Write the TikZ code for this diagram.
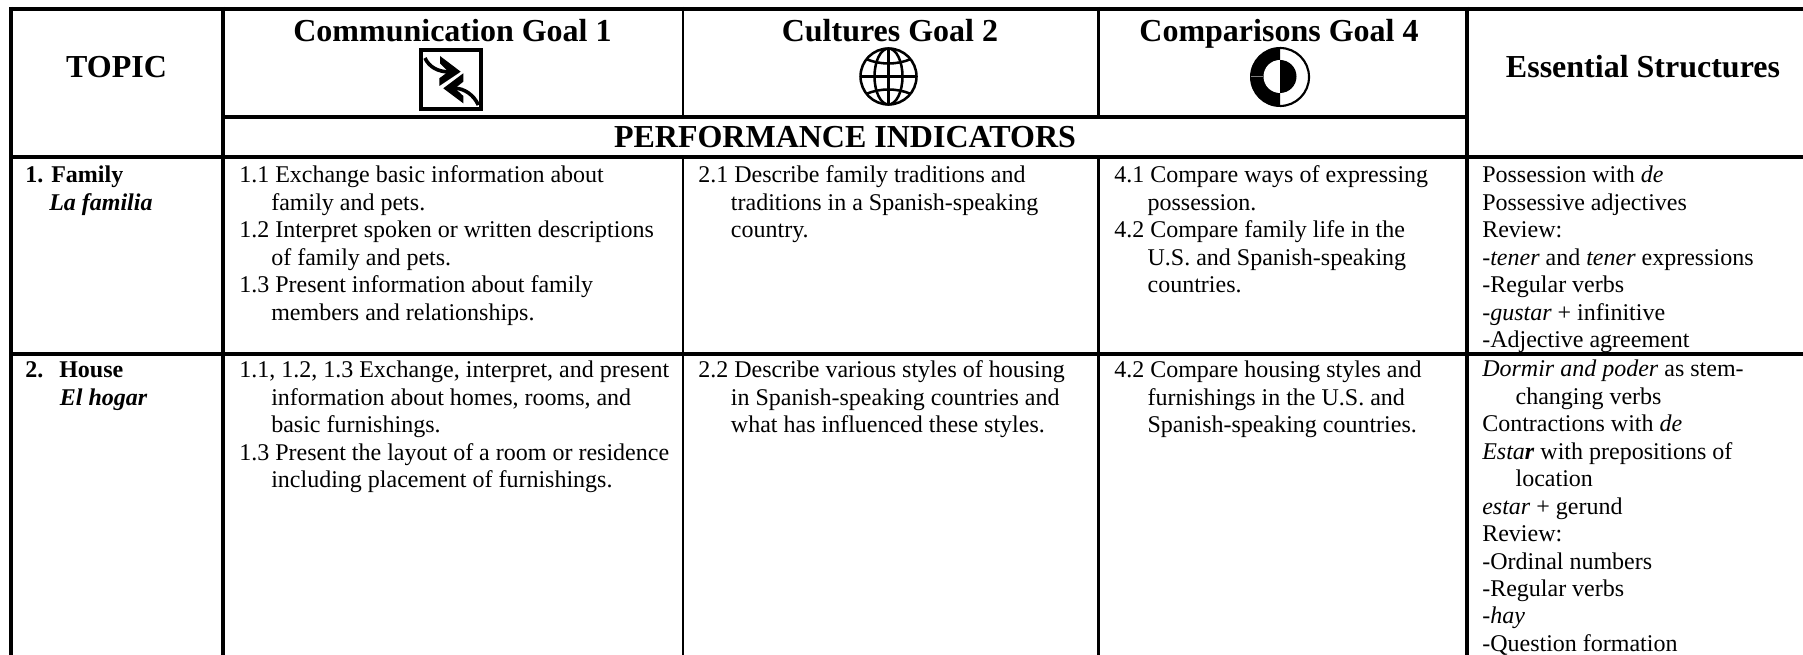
\documentclass[tikz,border=0pt]{standalone}
\usepackage{fontspec}
\setmainfont{Liberation Serif}
\newcommand{\cellstrut}{\rule{0pt}{15pt}}
\newcommand{\ind}[1]{\hspace*{#1}}
\tikzset{
  x=0.75pt,y=-0.75pt,
  thickrule/.style={line width=3pt,black},
  thinrule/.style={line width=1.6pt,black},
  headtext/.style={anchor=base,inner sep=0pt,font=\bfseries\fontsize{24}{28}\selectfont},
  celltext/.style={anchor=north west,inner sep=0pt,align=left,font=\fontsize{18}{20.6}\selectfont},
  topictext/.style={celltext,font=\bfseries\fontsize{18}{20.6}\selectfont},
  iconline/.style={line width=3pt,black},
  globeline/.style={line width=1.9pt,black},
}
\begin{document}
\begin{tikzpicture}
\useasboundingbox (0,0) rectangle (1803,655);
\fill[white] (0,0) rectangle (1803,655);
% rules
\draw[thickrule] (9,9) -- (1803,9);
\draw[thickrule] (222,117) -- (1467,117);
\draw[thickrule] (9,157) -- (1803,157);
\draw[line width=2.4pt] (9,354) -- (1803,354);
\draw[thickrule] (11,7) -- (11,655);
\draw[thickrule] (222.5,7) -- (222.5,655);
\draw[thinrule] (683,7) -- (683,117);
\draw[thinrule] (683,157) -- (683,655);
\draw[thinrule] (1098.5,7) -- (1098.5,117);
\draw[thinrule] (1098.5,157) -- (1098.5,655);
\draw[thickrule] (1467,7) -- (1467,655);
% headers
\node[headtext] (topic) at (116.5,78) {TOPIC};
\node[headtext] (comm) at (452.5,41.5) {Communication Goal 1};
\node[headtext] (cult) at (890,41.5) {Cultures Goal 2};
\node[headtext] (comp) at (1279,41.5) {Comparisons Goal 4};
\node[headtext] (ess) at (1643,78) {Essential Structures};
\node[headtext] (perf) at (845,148) {PERFORMANCE INDICATORS};
% communication icon
\draw[iconline] (421.3,50) rectangle (480.7,109);
\draw[line width=2.7pt,black] (425,58) .. controls (429,67) and (438,72) .. (450,72);
\fill[black] (440,56) -- (460.7,71.7) -- (439.3,86) -- (439.3,78.3) -- (448.3,71.7) -- (440,63.3) -- cycle;
\draw[line width=2.7pt,black] (478.3,105) .. controls (474,95) and (464,88.3) .. (455,88.3);
\fill[black] (443.3,88.3) -- (463.3,73.3) -- (463.3,81.7) -- (455,88.3) -- (463.3,96) -- (463.3,103.3) -- cycle;
% globe icon
\draw[globeline] (888.5,76.5) circle (28);
\draw[globeline] (888.5,76.5) ellipse (14 and 28);
\draw[globeline] (888.5,48.5) -- (888.5,104.5);
\draw[globeline] (860.5,76.5) -- (916.5,76.5);
\draw[globeline] (866,59) .. controls (880,65) and (897,65) .. (911,59);
\draw[globeline] (866,94) .. controls (880,88) and (897,88) .. (911,94);
% comparison icon
\fill[black] (1280,47) arc[start angle=270,end angle=90,radius=30] -- cycle;
\draw[line width=1.6pt,black] (1280,48) arc[start angle=-90,end angle=90,radius=29];
\fill[white] (1280,60) arc[start angle=270,end angle=90,radius=16.5] -- cycle;
\fill[black] (1280,60) arc[start angle=-90,end angle=90,radius=16.5] -- cycle;
\draw[line width=0.4pt,gray] (1251,76.5) -- (1263,76.5);
% topic cells
\node[topictext] (t1) at (25,162.5) {\cellstrut 1. Family\\\ind{18pt}\textit{La familia}};
\node[topictext] (t2) at (25,357.5) {\cellstrut 2.\ \ \,House\\\ind{26pt}\textit{El hogar}};
% communication cells
\node[celltext] (c1) at (239,162.5) {\cellstrut 1.1 Exchange basic information about\\
\ind{24pt}family and pets.\\
1.2 Interpret spoken or written descriptions\\
\ind{24pt}of family and pets.\\
1.3 Present information about family\\
\ind{24pt}members and relationships.};
\node[celltext] (c2) at (239,357.5) {\cellstrut 1.1, 1.2, 1.3 Exchange, interpret, and present\\
\ind{24pt}information about homes, rooms, and\\
\ind{24pt}basic furnishings.\\
1.3 Present the layout of a room or residence\\
\ind{24pt}including placement of furnishings.};
% cultures cells
\node[celltext] (k1) at (698,162.5) {\cellstrut 2.1 Describe family traditions and\\
\ind{24.5pt}traditions in a Spanish-speaking\\
\ind{24.5pt}country.};
\node[celltext] (k2) at (698,357.5) {\cellstrut 2.2 Describe various styles of housing\\
\ind{24.5pt}in Spanish-speaking countries and\\
\ind{24.5pt}what has influenced these styles.};
% comparison cells
\node[celltext] (p1) at (1114,162.5) {\cellstrut 4.1 Compare ways of expressing\\
\ind{25pt}possession.\\
4.2 Compare family life in the\\
\ind{25pt}U.S. and Spanish-speaking\\
\ind{25pt}countries.};
\node[celltext] (p2) at (1114,357.5) {\cellstrut 4.2 Compare housing styles and\\
\ind{25pt}furnishings in the U.S. and\\
\ind{25pt}Spanish-speaking countries.};
% structures cells
\node[celltext] (s1) at (1482,162.5) {\cellstrut Possession with \textit{de}\\
Possessive adjectives\\
Review:\\
-\textit{tener} and \textit{tener} expressions\\
-Regular verbs\\
-\textit{gustar} + infinitive\\
-Adjective agreement};
\node[celltext] (s2) at (1482,356.5) {\cellstrut \textit{Dormir and poder} as stem-\\
\ind{25pt}changing verbs\\
Contractions with \textit{de}\\
\textit{Esta}\textbf{\textit{r}} with prepositions of\\
\ind{25pt}location\\
\textit{estar} + gerund\\
Review:\\
-Ordinal numbers\\
-Regular verbs\\
-\textit{hay}\\
-Question formation};
\end{tikzpicture}
\end{document}
